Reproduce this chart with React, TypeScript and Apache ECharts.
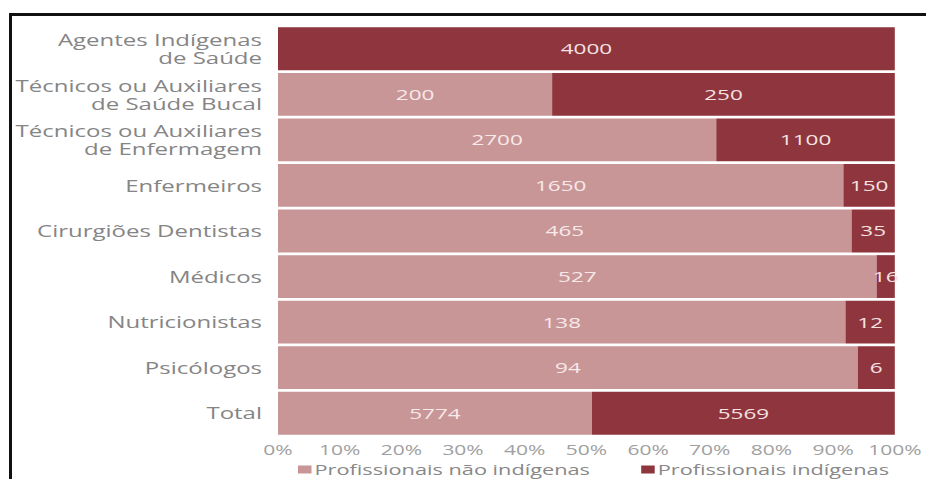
import React, { useEffect, useRef } from "react";
import * as echarts from "echarts";

const categories = [
  "Agentes Indígenas\nde Saúde",
  "Técnicos ou Auxiliares\nde Saúde Bucal",
  "Técnicos ou Auxiliares\nde Enfermagem",
  "Enfermeiros",
  "Cirurgiões Dentistas",
  "Médicos",
  "Nutricionistas",
  "Psicólogos",
  "Total",
];
const naoIndigenas = [0, 200, 2700, 1650, 465, 527, 138, 94, 5774];
const indigenas = [4000, 250, 1100, 150, 35, 16, 12, 6, 5569];
const seriesNames = ["Profissionais não indígenas", "Profissionais indígenas"];
const tickValues = [0, 10, 20, 30, 40, 50, 60, 70, 80, 90, 100];

const S = 1.5; // horizontal stretch of the reference picture
const W = 926 / S;
const H = 479;
const FONT = "Open Sans";

export default function App() {
  const ref = useRef<HTMLDivElement>(null);

  useEffect(() => {
    if (!ref.current) return;
    const chart = echarts.init(ref.current, null, { renderer: "svg", width: W, height: H });
    const totals = naoIndigenas.map((v, i) => v + indigenas[i]);
    const pct = (arr: number[]) => arr.map((v, i) => (v / totals[i]) * 100);
    const raw = [naoIndigenas, indigenas];
    const colors = ["#c99697", "#8f353d"];

    chart.setOption({
      animation: false,
      textStyle: { fontFamily: FONT },
      grid: { left: 278 / S, right: (926 - 898) / S, top: 26, bottom: 43, containLabel: false },
      legend: {
        left: 298 / S,
        top: 462,
        padding: 0,
        itemWidth: 9,
        itemHeight: 8,
        itemGap: 34,
        icon: "rect",
        textStyle: {
          fontSize: 14.5,
          lineHeight: 15,
          color: "#888888",
          fontFamily: FONT,
          padding: [0, 0, 0, -3],
        },
        data: seriesNames,
      },
      xAxis: {
        type: "value",
        min: 0,
        max: 100,
        interval: 10,
        axisLine: { show: false },
        axisTick: { show: false },
        splitLine: { show: false },
        axisLabel: {
          color: "#a0a0a0",
          fontSize: 14,
          margin: 6,
          fontFamily: FONT,
          formatter: (v: number) => (tickValues.includes(v) ? `${v}%` : ""),
        },
      },
      yAxis: {
        type: "category",
        inverse: true,
        data: categories,
        axisLine: { show: false },
        axisTick: { show: false },
        axisLabel: {
          color: "#858585",
          fontSize: 16,
          lineHeight: 18,
          margin: 16 / S,
          fontFamily: FONT,
          align: "right",
        },
      },
      series: [0, 1].map((k) => ({
        name: seriesNames[k],
        type: "bar",
        stack: "total",
        barCategoryGap: "6%",
        data: pct(raw[k]),
        itemStyle: { color: colors[k] },
        label: {
          show: true,
          position: "inside",
          color: k === 0 ? "#f6e9e9" : "#f4e2e2",
          fontSize: 15,
          fontFamily: FONT,
          formatter: (p: any) => {
            const v = raw[k][p.dataIndex];
            return v ? String(v) : "";
          },
        },
      })),
    });
    return () => chart.dispose();
  }, []);

  return (
    <div
      style={{
        position: "fixed",
        left: 0,
        top: 0,
        width: 926,
        height: 479,
        overflow: "hidden",
        background: "#fff",
      }}
    >
      <div
        ref={ref}
        style={{
          position: "absolute",
          left: 0,
          top: 0,
          width: W,
          height: H,
          transform: `scaleX(${S})`,
          transformOrigin: "0 0",
        }}
      />
      <div style={{ position: "absolute", left: 9, top: 13, width: 917, height: 3, background: "#111" }} />
      <div style={{ position: "absolute", left: 9, top: 13, width: 3, height: 466, background: "#111" }} />
    </div>
  );
}
